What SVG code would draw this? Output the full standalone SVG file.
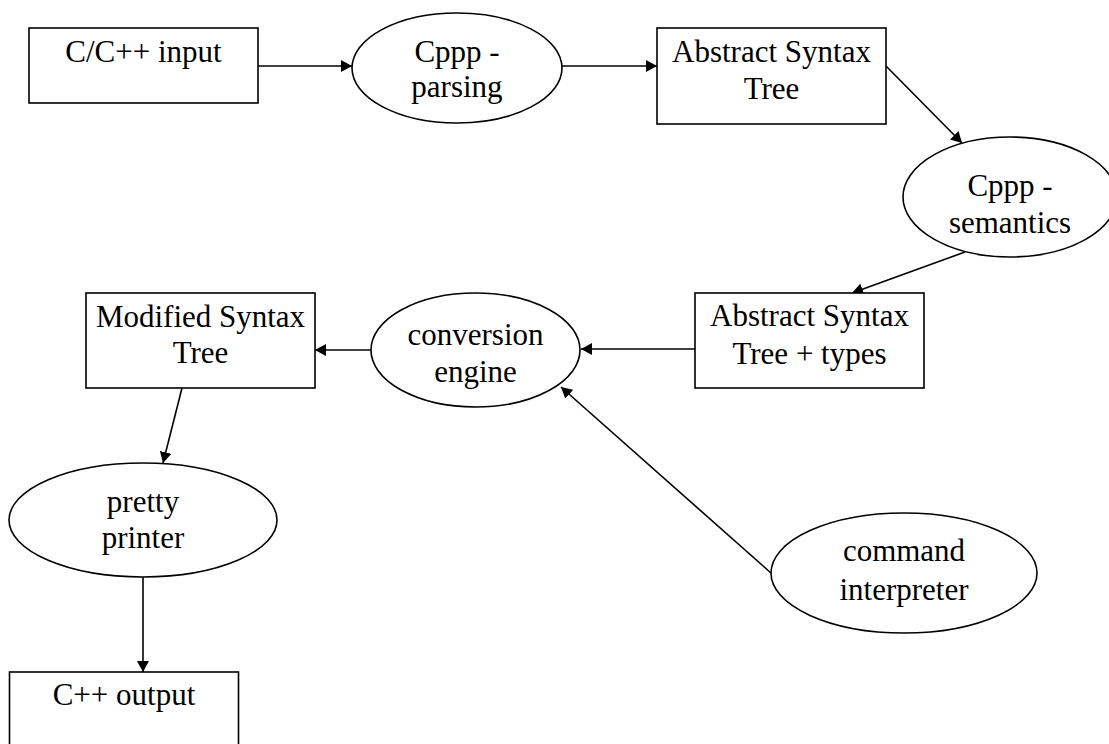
<svg xmlns="http://www.w3.org/2000/svg" width="1109" height="744" viewBox="0 0 1109 744">
  <style>
    .box { fill: #ffffff; stroke: #000000; stroke-width: 1.6; }
    .oval { fill: #ffffff; stroke: #000000; stroke-width: 1.6; }
    .lbl { font-family: "Liberation Serif", "Times New Roman", serif; font-size: 31px; fill: #000000; text-anchor: middle; }
    .edge { stroke: #000000; stroke-width: 1.6; fill: none; marker-end: url(#head); }
  </style>
  <defs>
    <marker id="head" markerUnits="userSpaceOnUse" markerWidth="11" markerHeight="12" refX="11" refY="6" orient="auto">
      <path d="M0,0 L11,6 L0,12 z" fill="#000000"/>
    </marker>
  </defs>
  <rect x="0" y="0" width="1109" height="744" fill="#ffffff"/>

  <!-- connectors -->
  <g id="connectors">
    <line class="edge" x1="258" y1="66" x2="352" y2="66"/>
    <line class="edge" x1="562" y1="66" x2="657" y2="66"/>
    <line class="edge" x1="886" y1="66" x2="962" y2="143"/>
    <line class="edge" x1="965" y1="252" x2="852" y2="293"/>
    <line class="edge" x1="695" y1="349" x2="581" y2="349"/>
    <line class="edge" x1="371" y1="350" x2="315" y2="350"/>
    <line class="edge" x1="182" y1="388" x2="163" y2="463"/>
    <line class="edge" x1="143" y1="577" x2="143" y2="672"/>
    <line class="edge" x1="771" y1="573" x2="561" y2="387"/>
  </g>

  <g id="cinput">
    <rect class="box" x="29" y="28" width="229" height="75"/>
    <text class="lbl" x="143.5" y="62">C/C++ input</text>
  </g>

  <g id="parsing">
    <ellipse class="oval" cx="457" cy="68" rx="105" ry="55"/>
    <text class="lbl" x="457" y="62">Cppp -</text>
    <text class="lbl" x="457" y="97">parsing</text>
  </g>

  <g id="ast">
    <rect class="box" x="657" y="28" width="229" height="96"/>
    <text class="lbl" x="771.5" y="62">Abstract Syntax</text>
    <text class="lbl" x="771.5" y="99">Tree</text>
  </g>

  <g id="semantics">
    <ellipse class="oval" cx="1010" cy="197" rx="107" ry="60"/>
    <text class="lbl" x="1010" y="196">Cppp -</text>
    <text class="lbl" x="1010" y="233">semantics</text>
  </g>

  <g id="ast-types">
    <rect class="box" x="695" y="293" width="229" height="95"/>
    <text class="lbl" x="809.5" y="326">Abstract Syntax</text>
    <text class="lbl" x="809.5" y="364">Tree + types</text>
  </g>

  <g id="conversion">
    <ellipse class="oval" cx="475.5" cy="350" rx="104.5" ry="57"/>
    <text class="lbl" x="475.5" y="345">conversion</text>
    <text class="lbl" x="475.5" y="382">engine</text>
  </g>

  <g id="modified">
    <rect class="box" x="86" y="293" width="229" height="95"/>
    <text class="lbl" x="200.5" y="327">Modified Syntax</text>
    <text class="lbl" x="200.5" y="363">Tree</text>
  </g>

  <g id="pretty">
    <ellipse class="oval" cx="143" cy="520" rx="134" ry="57"/>
    <text class="lbl" x="143" y="512">pretty</text>
    <text class="lbl" x="143" y="548">printer</text>
  </g>

  <g id="command">
    <ellipse class="oval" cx="904" cy="573" rx="133" ry="60"/>
    <text class="lbl" x="904" y="561">command</text>
    <text class="lbl" x="904" y="600">interpreter</text>
  </g>

  <g id="cpp-output">
    <rect class="box" x="9.5" y="672" width="229" height="95"/>
    <text class="lbl" x="124" y="705">C++ output</text>
  </g>
</svg>
